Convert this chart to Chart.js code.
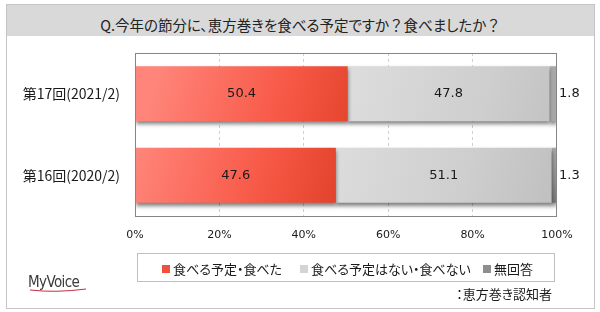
<!DOCTYPE html>
<html lang="ja">

<head>
    <meta charset="UTF-8">
    <script src="https://cdn.jsdelivr.net/npm/chart.js"></script>
    <title>恵方巻き</title>
    <style>
        html, body {
            margin: 0;
            padding: 0;
            width: 600px;
            height: 312px;
            background: #fff;
            overflow: hidden;
            font-family: "Noto Sans CJK JP", "Noto Sans", sans-serif;
            font-feature-settings: "palt";
            color: #1a1a1a;
        }

        .frame {
            position: absolute;
            left: 6px;
            top: 4px;
            width: 587px;
            height: 303px;
            border: 1px solid #c4c4c4;
        }

        .titleBand {
            position: absolute;
            left: 7px;
            top: 5px;
            width: 587px;
            height: 31px;
            background: #d9d9d9;
            font-size: 14.5px;
            color: #222;
        }

        .titleBand div {
            position: absolute;
            left: 0;
            right: 0;
            top: 10px;
            line-height: 20px;
            text-align: center;
        }

        .titleBand .fw {
            font-feature-settings: normal;
        }

        #chartWrap {
            position: absolute;
            left: 0;
            top: 0;
            width: 600px;
            height: 312px;
        }

        .legend {
            position: absolute;
            left: 137px;
            top: 253px;
            width: 416px;
            height: 27px;
            border: 1px solid #bfbfbf;
            font-size: 13px;
            background: #fff;
            white-space: nowrap;
        }

        .legend span.item {
            position: absolute;
            top: 1px;
            height: 27px;
            display: flex;
            align-items: center;
        }

        .legend i {
            display: inline-block;
            width: 8px;
            height: 8px;
            margin-right: 3px;
        }

        .note {
            position: absolute;
            right: 48px;
            top: 284px;
            font-size: 13px;
            white-space: nowrap;
        }

        .logo {
            position: absolute;
            left: 28px;
            top: 273px;
            font-family: "Liberation Sans Narrow", "DejaVu Sans Condensed", sans-serif;
            font-size: 15px;
            color: #3a3a3a;
            letter-spacing: -0.6px;
        }

        .logo svg {
            position: absolute;
            left: 0;
            top: 14px;
        }
    </style>
</head>

<body>
    <div class="frame"></div>
    <div class="titleBand"><div>Q.今年の節分に、恵方巻きを食べる予定ですか<span class="fw">？</span>食べましたか<span class="fw">？</span></div></div>
    <div id="chartWrap"><canvas id="myChart" width="600" height="312"></canvas></div>
    <div class="legend" id="legend"></div>
    <div class="logo">MyVoice<svg width="60" height="6"><path d="M2 3 Q 28 6 58 2" stroke="#c0303a" stroke-width="1" fill="none"/></svg></div>
    <div class="note">：恵方巻き認知者</div>

    <script>
        // data
        const categories = ['第17回(2021/2)', '第16回(2020/2)']
        const seriesNames = ['食べる予定・食べた', '食べる予定はない・食べない', '無回答']
        const willEat = [50.4, 47.6]
        const wontEat = [47.8, 51.1]
        const noAnswer = [1.8, 1.3]
        const xTicks = [0, 20, 40, 60, 80, 100]

        // gradient stops per series (left-top -> right-bottom)
        const seriesColors = [
            ['#ff857a', '#f85a48', '#e2432c'],
            ['#dcdcdc', '#cecece', '#c0c0c0'],
            ['#a8a8a8', '#909090', '#7a7a7a']
        ]
        const swatchColors = ['#f0503e', '#d4d4d4', '#8e8e8e']
        const legendOffsets = [24, 162, 345]  // px from legend box left

        // html legend
        let legendBox = document.getElementById('legend')
        seriesNames.forEach((name, i) => {
            let item = document.createElement('span')
            item.className = 'item'
            item.style.left = legendOffsets[i] + 'px'
            item.innerHTML = '<i style="background:' + swatchColors[i] + '"></i>' + name
            legendBox.appendChild(item)
        })

        const gradientPlugin = {
            id: 'gradientBars',
            beforeDatasetsDraw(chart) {
                const ctx = chart.ctx
                chart.data.datasets.forEach((ds, di) => {
                    const meta = chart.getDatasetMeta(di)
                    meta.data.forEach((bar) => {
                        const top = bar.y - bar.height / 2
                        const g = ctx.createLinearGradient(bar.base, top, bar.x, top + bar.height)
                        const c = seriesColors[di]
                        g.addColorStop(0, c[0])
                        g.addColorStop(0.6, c[1])
                        g.addColorStop(1, c[2])
                        bar.options.backgroundColor = g
                    })
                })
                ctx.save()
                ctx.shadowColor = 'rgba(0, 0, 0, 0.5)'
                ctx.shadowBlur = 4
                ctx.shadowOffsetY = 3
            },
            afterDatasetsDraw(chart) {
                const ctx = chart.ctx
                ctx.restore()
                const area = chart.chartArea

                // plot frame
                ctx.save()
                ctx.strokeStyle = '#858585'
                ctx.lineWidth = 1
                ctx.strokeRect(Math.round(area.left) + 0.5, Math.round(area.top) + 0.5,
                    Math.round(area.right - area.left) - 1, Math.round(area.bottom - area.top))
                ctx.restore()

                // value labels
                ctx.save()
                ctx.font = '13px "DejaVu Sans", sans-serif'
                ctx.fillStyle = '#1a1a1a'
                ctx.textBaseline = 'middle'
                chart.data.datasets.forEach((ds, di) => {
                    const meta = chart.getDatasetMeta(di)
                    meta.data.forEach((bar, i) => {
                        const txt = ds.data[i].toFixed(1)
                        if (di < 2) {
                            ctx.textAlign = 'center'
                            ctx.fillText(txt, (bar.x + bar.base) / 2, bar.y)
                        } else {
                            ctx.textAlign = 'left'
                            ctx.fillText(txt, area.right + 2, bar.y)
                        }
                    })
                })
                ctx.restore()
            }
        }

        var ctx = document.getElementById('myChart').getContext('2d')
        var chart = new Chart(ctx, {
            type: 'bar',
            data: {
                labels: categories,
                datasets: [
                    { label: seriesNames[0], data: willEat },
                    { label: seriesNames[1], data: wontEat },
                    { label: seriesNames[2], data: noAnswer }
                ].map(d => Object.assign(d, {
                    barPercentage: 0.675,
                    categoryPercentage: 1.0,
                    borderWidth: 0
                }))
            },
            options: {
                indexAxis: 'y',
                responsive: false,
                animation: false,
                layout: {
                    padding: { left: 0, top: 53, right: 43, bottom: 66 }
                },
                plugins: {
                    legend: { display: false },
                    tooltip: { enabled: false }
                },
                scales: {
                    x: {
                        stacked: true,
                        min: 0,
                        max: 100,
                        afterBuildTicks: (scale) => {
                            scale.ticks = xTicks.map(v => ({ value: v }))
                        },
                        afterFit: (scale) => { scale.height = 30 },
                        ticks: {
                            padding: 13,
                            color: '#1a1a1a',
                            font: { family: '"DejaVu Sans", sans-serif', size: 11 },
                            callback: (v) => v + '%'
                        },
                        grid: {
                            drawTicks: false,
                            color: (c) => (c.tick && (c.tick.value === 0 || c.tick.value === 100)) ? 'rgba(0,0,0,0)' : '#cfcfcf'
                        },
                        border: { display: false, dash: [3, 3] }
                    },
                    y: {
                        stacked: true,
                        afterFit: (scale) => { scale.width = 135 },
                        ticks: {
                            padding: 15,
                            color: '#1a1a1a',
                            font: { family: '"Noto Sans CJK JP", sans-serif', size: 14 }
                        },
                        grid: { display: false, drawTicks: false },
                        border: { display: false }
                    }
                }
            },
            plugins: [gradientPlugin]
        })
    </script>
</body>

</html>
